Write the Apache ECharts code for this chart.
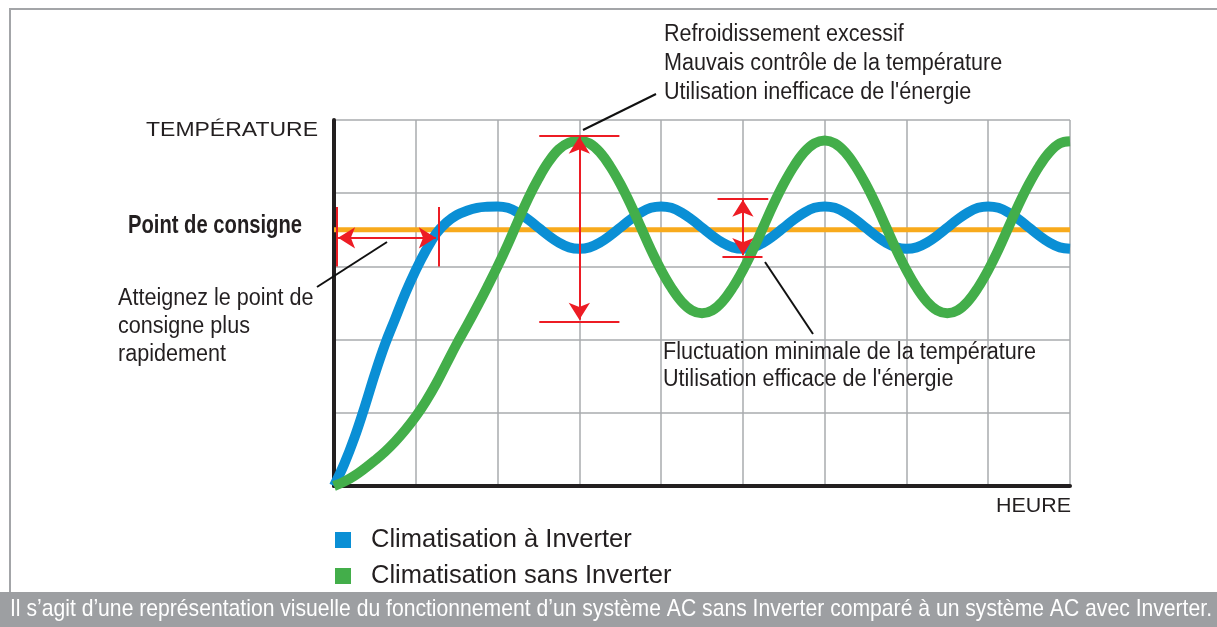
<!DOCTYPE html>
<html><head><meta charset="utf-8">
<script src="https://cdn.jsdelivr.net/npm/echarts@6/dist/echarts.min.js"></script>
<style>html,body{margin:0;padding:0;background:#fff}#c{width:1217px;height:627px}</style>
</head><body><div id="c"></div>
<script>
// ---- data ----
const hours = [0,0.125,0.25,0.375,0.5,0.625,0.75,0.875,1,1.125,1.25,1.375,1.5,1.625,1.75,1.875,
  2,2.125,2.25,2.375,2.5,2.625,2.75,2.875,3,3.125,3.25,3.375,3.5,3.625,3.75,3.875,
  4,4.125,4.25,4.375,4.5,4.625,4.75,4.875,5,5.125,5.25,5.375,5.5,5.625,5.75,5.875,
  6,6.125,6.25,6.375,6.5,6.625,6.75,6.875,7,7.125,7.25,7.375,7.5,7.625,7.75,7.875,
  8,8.125,8.25,8.375,8.5,8.625,8.75,8.875,9];
const inverterTemp = [0,0.30,0.66,1.08,1.53,1.94,2.29,2.64,2.95,3.22,3.45,3.60,3.70,3.76,3.80,3.815,
  3.82,3.80,3.735,3.64,3.53,3.42,3.325,3.26,3.24,3.26,3.325,3.42,3.53,3.64,3.735,3.80,
  3.82,3.80,3.735,3.64,3.53,3.42,3.325,3.26,3.24,3.26,3.325,3.42,3.53,3.64,3.735,3.80,
  3.82,3.80,3.735,3.64,3.53,3.42,3.325,3.26,3.24,3.26,3.325,3.42,3.53,3.64,3.735,3.80,
  3.82,3.80,3.735,3.64,3.53,3.42,3.325,3.26,3.24];
const nonInverterTemp = [0,0.06,0.14,0.24,0.35,0.47,0.61,0.77,0.95,1.16,1.40,1.67,1.94,2.19,2.45,2.72,
  3.00,3.30,3.62,3.93,4.20,4.43,4.60,4.69,4.72,4.68,4.56,4.37,4.13,3.85,3.54,3.23,
  2.95,2.71,2.52,2.40,2.36,2.40,2.52,2.71,2.95,3.23,3.54,3.85,4.13,4.37,4.56,4.68,
  4.72,4.68,4.56,4.37,4.13,3.85,3.54,3.23,2.95,2.71,2.52,2.40,2.36,2.40,2.52,2.71,
  2.95,3.23,3.54,3.85,4.13,4.37,4.56,4.68,4.71];
const setpointValue = 3.5;
const seriesNames = ['Climatisation à Inverter', 'Climatisation sans Inverter'];
const axisNames = ['TEMPÉRATURE', 'HEURE'];
const setpointLabel = 'Point de consigne';
const noteOvercool = ['Refroidissement excessif', 'Mauvais contrôle de la température', "Utilisation inefficace de l'énergie"];
const noteFast = ['Atteignez le point de', 'consigne plus', 'rapidement'];
const noteStable = ['Fluctuation minimale de la température', "Utilisation efficace de l'énergie"];
const footerText = 'Il s’agit d’une représentation visuelle du fonctionnement d’un système AC sans Inverter comparé à un système AC avec Inverter.';

// ---- styles ----
const BLUE = '#0a8fd5', GREEN = '#43ae4a', ORANGE = '#f8aa1c', RED = '#ed1c24', INK = '#231f20';
const FONT = "'Liberation Sans', Arial, sans-serif";

const mctx = document.createElement('canvas').getContext('2d');
function textW(text, size, weight) {
  mctx.font = (weight || 'normal') + ' ' + size + 'px ' + FONT;
  return mctx.measureText(text).width;
}
function sx(text, size, weight, targetW) { return targetW / textW(text, size, weight); }

const chart = echarts.init(document.getElementById('c'), null, {renderer: 'canvas'});
const pairs = (ys) => hours.map((h, i) => [h, ys[i]]);

const arrowSize = [16, 17];
function txt(x, y, text, size, scaleX, opts) {
  return {type: 'text', x: x, y: y, z: 100, silent: true, scaleX: scaleX, scaleY: 1,
    style: Object.assign({text: text, fill: INK, fontSize: size, fontFamily: FONT, align: 'left', verticalAlign: 'middle'}, opts || {})};
}
function seg(x1, y1, x2, y2, color, w) {
  return {type: 'line', z: 100, silent: true, shape: {x1, y1, x2, y2}, style: {stroke: color, lineWidth: w}};
}
const ANN = 23;
const annScale = sx(noteStable[0], ANN, 'normal', 373);
const spScale = sx(setpointLabel, 25, 'bold', 174);
const footScale = sx(footerText, 24, 'normal', 1202);
const tempScale = sx(axisNames[0], 21, 'normal', 172);
const heureScale = sx(axisNames[1], 21, 'normal', 75);

function legendFor(name, top) {
  return {data: [name], orient: 'vertical', left: 335, top: top, padding: 0, itemWidth: 16, itemHeight: 16,
    icon: 'rect', selectedMode: false,
    textStyle: {fontSize: 25.5, fontFamily: FONT, color: INK, padding: [0, 0, 0, 15]}};
}

const option = {
  backgroundColor: '#ffffff',
  animation: false,
  grid: {left: 334, right: 147, top: 120, bottom: 141, containLabel: false},
  xAxis: {type: 'value', min: 0, max: 9, interval: 1,
    axisLine: {show: true, onZero: false, lineStyle: {color: INK, width: 4}},
    axisTick: {show: false}, axisLabel: {show: false},
    splitLine: {show: true, lineStyle: {color: '#a9abae', width: 1.5}}},
  yAxis: {type: 'value', min: 0, max: 5, interval: 1,
    axisLine: {show: true, onZero: false, lineStyle: {color: INK, width: 4}},
    axisTick: {show: false}, axisLabel: {show: false},
    splitLine: {show: true, lineStyle: {color: '#a9abae', width: 1.5}}},
  legend: [legendFor(seriesNames[0], 527), legendFor(seriesNames[1], 563)],
  series: [
    {name: 'setpoint', type: 'line', data: [[0, setpointValue], [9, setpointValue]], showSymbol: false, silent: true,
      lineStyle: {color: ORANGE, width: 5}, itemStyle: {color: ORANGE}, z: 2},
    {name: seriesNames[0], type: 'line', data: pairs(inverterTemp), smooth: 0.4, showSymbol: false, silent: true,
      lineStyle: {color: BLUE, width: 10, cap: 'butt', join: 'round'}, itemStyle: {color: BLUE}, z: 3},
    {name: seriesNames[1], type: 'line', data: pairs(nonInverterTemp), smooth: 0.4, showSymbol: false, silent: true,
      lineStyle: {color: GREEN, width: 10, cap: 'butt', join: 'round'}, itemStyle: {color: GREEN}, z: 4},
    {name: 'annotations', type: 'line', data: [], silent: true, z: 6,
      markLine: {silent: true, symbol: ['none', 'none'], label: {show: false}, animation: false,
        lineStyle: {color: RED, width: 2, type: 'solid'}, emphasis: {disabled: true},
        data: [
          [{coord: [0.03, 3.0]}, {coord: [0.03, 3.81]}],
          [{coord: [1.275, 3.0]}, {coord: [1.275, 3.81]}],
          [{coord: [0.05, 3.39], symbol: 'arrow', symbolSize: arrowSize}, {coord: [1.245, 3.39], symbol: 'arrow', symbolSize: arrowSize}],
          [{coord: [2.51, 4.79]}, {coord: [3.49, 4.79]}],
          [{coord: [2.51, 2.25]}, {coord: [3.49, 2.25]}],
          [{coord: [3, 4.77], symbol: 'arrow', symbolSize: arrowSize}, {coord: [3, 2.27], symbol: 'arrow', symbolSize: arrowSize}],
          [{coord: [4.69, 3.93]}, {coord: [5.31, 3.93]}],
          [{coord: [4.75, 3.13]}, {coord: [5.24, 3.13]}],
          [{coord: [5, 3.91], symbol: 'arrow', symbolSize: arrowSize}, {coord: [5, 3.155], symbol: 'arrow', symbolSize: arrowSize}]
        ]}}
  ],
  graphic: [
    seg(10, 9, 1217, 9, '#a3a5a8', 2),
    seg(10, 8, 10, 592, '#a3a5a8', 2),
    {type: 'rect', z: 90, silent: true, shape: {x: 0, y: 592, width: 1217, height: 35}, style: {fill: '#9d9fa2'}},
    txt(10, 609.5, footerText, 24, footScale, {fill: '#ffffff'}),
    txt(146, 130, axisNames[0], 21, tempScale),
    txt(996, 506, axisNames[1], 21, heureScale),
    txt(128, 226, setpointLabel, 25, spScale, {fontWeight: 'bold'}),
    txt(664, 20.5, noteOvercool.join('\n'), ANN, annScale, {verticalAlign: 'top', lineHeight: 29}),
    txt(118, 285, noteFast.join('\n'), ANN, annScale, {verticalAlign: 'top', lineHeight: 28}),
    txt(663, 338.6, noteStable.join('\n'), ANN, annScale, {verticalAlign: 'top', lineHeight: 27.7}),
    seg(583, 130, 656, 94, '#111', 2),
    seg(387, 242, 317, 287, '#111', 2),
    seg(765, 262, 813, 334, '#111', 2)
  ]
};
chart.setOption(option);
</script>
</body></html>
